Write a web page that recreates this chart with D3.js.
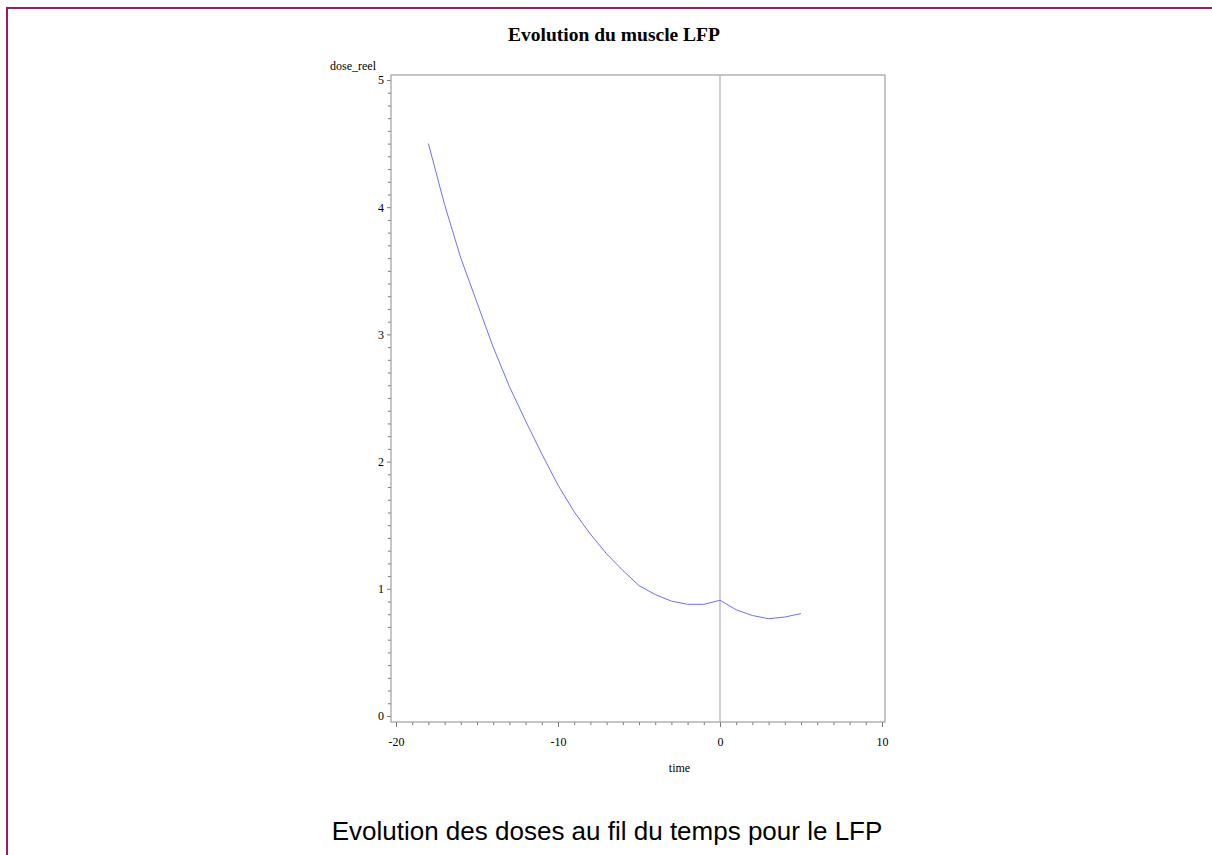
<!DOCTYPE html>
<meta charset="utf-8" />
<style>
  body {
    margin: 0;
    background: #fff;
  }
  #graficoDoses {
    position: absolute;
    left: 0;
    top: 0;
  }
  .tickTexto {
    font-family: "Liberation Serif", "Times New Roman", serif;
    font-size: 12px;
    fill: #000;
  }
</style>

<body>
  <div id="graficoDoses"></div>
  <script src="https://cdn.jsdelivr.net/npm/d3@7"></script>
  <script>
    // dados
    var tempos = [-18, -17, -16, -15, -14, -13, -12, -11, -10, -9, -8, -7, -6, -5, -4, -3, -2, -1, 0, 1, 2, 3, 4, 5];
    var doses = [4.5, 4.02, 3.6, 3.25, 2.9, 2.59, 2.32, 2.06, 1.815, 1.605, 1.43, 1.275, 1.145, 1.025, 0.955, 0.903, 0.878, 0.878, 0.91, 0.835, 0.79, 0.765, 0.778, 0.805];
    var ticksX = [-20, -10, 0, 10];
    var ticksY = [0, 1, 2, 3, 4, 5];

    var titulo = "Evolution du muscle LFP";
    var legenda = "Evolution des doses au fil du temps pour le LFP";

    var larguraTotal = 1212;
    var alturaTotal = 855;

    // caixa do grafico
    var caixa = { esquerda: 391, direita: 885, topo: 75, baixo: 722 };

    var svg = d3
      .select("#graficoDoses")
      .append("svg")
      .attr("width", larguraTotal)
      .attr("height", alturaTotal);

    // moldura roxa da pagina
    svg
      .append("path")
      .attr("d", "M7,855 L7,8 L1212,8")
      .attr("fill", "none")
      .attr("stroke", "#9b1b6b")
      .attr("stroke-width", 2);

    var x = d3.scaleLinear().domain([-20, 10]).range([396, 882]);
    var y = d3.scaleLinear().domain([0, 5]).range([716, 80]);

    // ticks menores
    var minX = d3.range(-20, 11, 1).filter((v) => ticksX.indexOf(v) < 0);
    var minY = d3.range(0, 50, 1).map((v) => v / 10).filter((v) => ticksY.indexOf(v) < 0);

    // eixo x
    var menorX = svg
      .append("g")
      .attr("transform", "translate(0," + caixa.baixo + ")")
      .call(d3.axisBottom(x).tickValues(minX).tickSize(3).tickFormat(""));
    menorX.selectAll("text").remove();

    var maiorX = svg
      .append("g")
      .attr("transform", "translate(0," + caixa.baixo + ")")
      .call(d3.axisBottom(x).tickValues(ticksX).tickSize(5).tickPadding(10));
    maiorX.selectAll("text").attr("class", "tickTexto").text((d) => String(d));

    // eixo y
    var menorY = svg
      .append("g")
      .attr("transform", "translate(" + caixa.esquerda + ",0)")
      .call(d3.axisLeft(y).tickValues(minY).tickSize(3).tickFormat(""));
    menorY.selectAll("text").remove();

    var maiorY = svg
      .append("g")
      .attr("transform", "translate(" + caixa.esquerda + ",0)")
      .call(d3.axisLeft(y).tickValues(ticksY).tickSize(4).tickPadding(3));
    maiorY.selectAll("text").attr("class", "tickTexto").text((d) => String(d));

    svg.selectAll(".domain").remove();
    svg.selectAll(".tick line").attr("stroke", "#777");

    // quadro cinza
    svg
      .append("rect")
      .attr("x", caixa.esquerda)
      .attr("y", caixa.topo)
      .attr("width", caixa.direita - caixa.esquerda)
      .attr("height", caixa.baixo - caixa.topo)
      .attr("fill", "none")
      .attr("stroke", "#a0a0a0")
      .attr("stroke-width", 1.2);

    // linha de referencia em zero
    svg
      .append("line")
      .attr("x1", x(0))
      .attr("x2", x(0))
      .attr("y1", caixa.topo)
      .attr("y2", caixa.baixo)
      .attr("stroke", "#b0b0b0")
      .attr("stroke-width", 1.2);

    // curva
    var pontos = tempos.map((t, i) => ({ t: t, v: doses[i] }));
    var linha = d3
      .line()
      .x((d) => x(d.t))
      .y((d) => y(d.v));
    svg
      .append("path")
      .datum(pontos)
      .attr("d", linha)
      .attr("fill", "none")
      .attr("stroke", "#6f6fff")
      .attr("stroke-width", 1);

    // textos
    svg
      .append("text")
      .attr("x", 614)
      .attr("y", 41)
      .attr("text-anchor", "middle")
      .style("font-family", "'Liberation Serif', 'Times New Roman', serif")
      .style("font-weight", "bold")
      .attr("font-size", "19.5px")
      .text(titulo);

    svg
      .append("text")
      .attr("x", 376)
      .attr("y", 70)
      .attr("text-anchor", "end")
      .attr("class", "tickTexto")
      .text("dose_reel");

    svg
      .append("text")
      .attr("x", x(-2.5))
      .attr("y", 772)
      .attr("text-anchor", "middle")
      .attr("class", "tickTexto")
      .text("time");

    svg
      .append("text")
      .attr("x", 607)
      .attr("y", 840)
      .attr("text-anchor", "middle")
      .style("font-family", "'Liberation Sans', Arial, sans-serif")
      .attr("font-size", "26px")
      .text(legenda);
  </script>
</body>
